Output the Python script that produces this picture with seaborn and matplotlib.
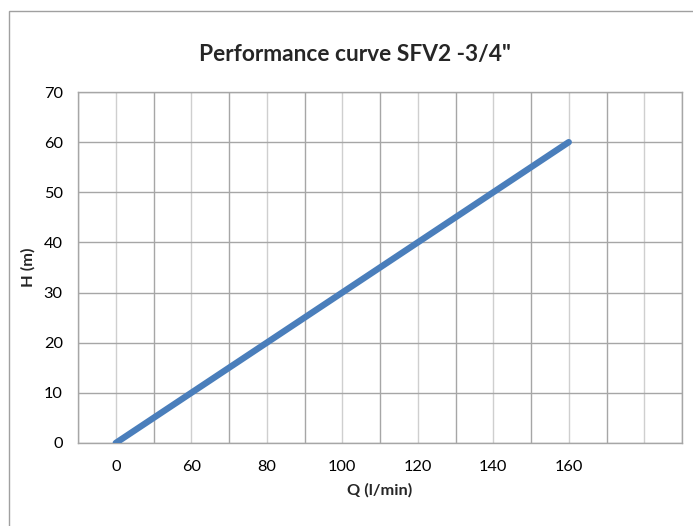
import matplotlib
matplotlib.use("Agg")
import matplotlib.pyplot as plt
import matplotlib.patches as patches
from matplotlib.ticker import FixedLocator
import seaborn as sns
import pandas as pd

# Chart data
q_labels = ["0", "60", "80", "100", "120", "140", "160"]
h_values = [0, 10, 20, 30, 40, 50, 60]
y_ticks = [0, 10, 20, 30, 40, 50, 60, 70]

TITLE = 'Performance curve SFV2 -3/4"'
X_LABEL = "Q (l/min)"
Y_LABEL = "H (m)"

LINE_COLOR = "#4a7ebb"
MAJOR_GRID = "#a6a6a6"
MINOR_GRID = "#cfcfcf"

sns.set_theme(style="white")
plt.rcParams["font.family"] = ["Lato", "DejaVu Sans"]

df = pd.DataFrame({"Q": q_labels, "H": h_values})

fig = plt.figure(figsize=(6.93, 5.26), dpi=100)
ax = fig.add_axes([78 / 693, 83 / 526, 604 / 693, 351 / 526])

sns.lineplot(data=df, x="Q", y="H", ax=ax, color=LINE_COLOR,
             linewidth=4.6, solid_capstyle="round", zorder=3)

# one empty category slot on the right, like the spreadsheet chart
ax.set_xlim(-0.5, len(q_labels) + 0.5)
ax.set_ylim(0, 70)
ax.set_yticks(y_ticks)

# category centres (light lines) and boundaries (darker lines)
ax.xaxis.set_major_locator(FixedLocator(range(len(q_labels))))
ax.set_xticklabels(q_labels)
ax.xaxis.set_minor_locator(FixedLocator([i - 0.5 for i in range(len(q_labels) + 2)]))
ax.grid(axis="x", which="major", color=MINOR_GRID, linewidth=1.0, zorder=0)
ax.grid(axis="x", which="minor", color=MAJOR_GRID, linewidth=1.0, zorder=0)
# light line at the empty slot centre too
ax.axvline(len(q_labels), color=MINOR_GRID, linewidth=1.0, zorder=0)
ax.grid(axis="y", which="major", color=MAJOR_GRID, linewidth=1.0, zorder=0)
ax.set_axisbelow(True)

for side in ["top", "right", "left", "bottom"]:
    ax.spines[side].set_color(MAJOR_GRID)
    ax.spines[side].set_linewidth(1.0)

ax.tick_params(axis="x", which="both", length=0, pad=12, labelsize=11.8, colors="black")
ax.tick_params(axis="y", which="both", length=0, pad=11, labelsize=11.8, colors="black")

ax.set_xlabel(X_LABEL, fontsize=11.8, fontweight="bold", labelpad=7)
ax.set_ylabel(Y_LABEL, fontsize=11.8, fontweight="bold", labelpad=6)

# title is centred on the whole chart area, not the plot area
fig.text(355 / 693, 1 - 55 / 526, TITLE, fontsize=16.4, fontweight="bold",
         ha="center", va="center")

# outer chart border
fig.patches.append(patches.Rectangle((9 / 693, -0.05), 1.0, 1.05 - 11 / 526,
                                     transform=fig.transFigure, fill=False,
                                     edgecolor="#a0a0a0", linewidth=1.0))

fig.savefig("out.png", dpi=100)
